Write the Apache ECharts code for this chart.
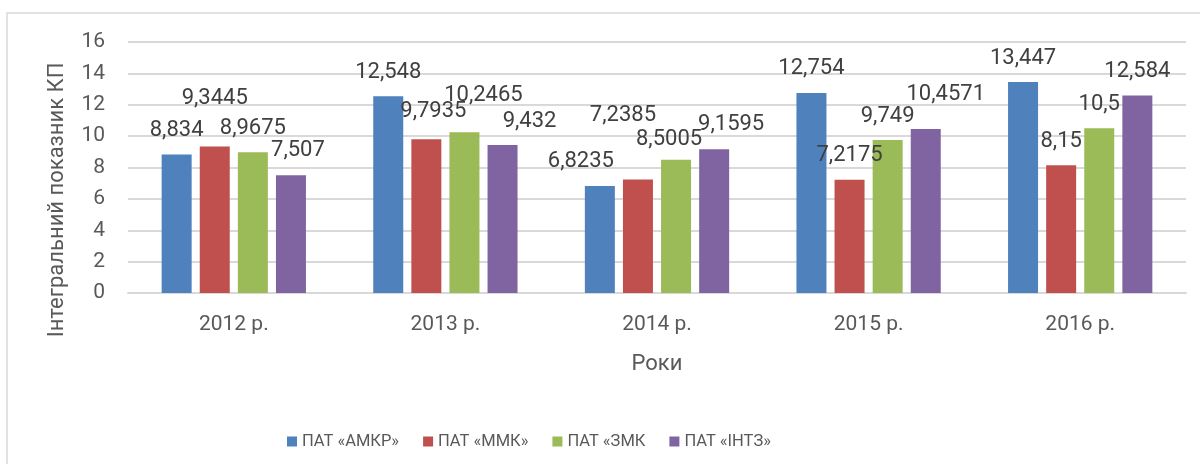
<!DOCTYPE html>
<html>
<head>
<meta charset="utf-8">
<script src="https://cdn.jsdelivr.net/npm/echarts@6/dist/echarts.min.js"></script>
<style>
  html, body { margin: 0; padding: 0; background: #fff; }
  #chart { width: 1200px; height: 464px; }
</style>
</head>
<body>
<div id="chart"></div>
<script>
const categories = ["2012 р.", "2013 р.", "2014 р.", "2015 р.", "2016 р."];
const seriesNames = ["ПАТ «АМКР»", "ПАТ «ММК»", "ПАТ «ЗМК", "ПАТ «ІНТЗ»"];
const amkr = [8.834, 12.548, 6.8235, 12.754, 13.447];
const mmk = [9.3445, 9.7935, 7.2385, 7.2175, 8.15];
const zmk = [8.9675, 10.2465, 8.5005, 9.749, 10.5];
const intz = [7.507, 9.432, 9.1595, 10.4571, 12.584];
const yTicks = { min: 0, max: 16, interval: 2 };

const colors = ["#4f81bd", "#c0504d", "#9bbb59", "#8064a2"];
// label nudges where the original chart moved overlapping labels
const labelNudge = [
    [[0, 0], [0, 0], [-19, 0], [0, 0], [0, 0]],
    [[0, -24], [7, -4], [-15, -40], [0, 0], [0, 0]],
    [[0, 0], [19, -13], [-7, 4], [0, 0], [0, 0]],
    [[7, -1], [27, 0], [17, -1], [20, -10], [0, 0]]
];

function makeSeries(name, values, idx)
{
    return {
        name: name,
        type: "bar",
        barWidth: 30,
        barGap: "27%",
        itemStyle: { color: colors[idx] },
        data: values.map((v, i) => ({
            value: v,
            label: { offset: labelNudge[idx][i] }
        })),
        label: {
            show: true,
            position: "top",
            distance: 13,
            fontFamily: "Roboto",
            fontSize: 22,
            color: "#404040",
            formatter: (p) => String(p.value).replace(".", ",")
        }
    };
}

const chart = echarts.init(document.getElementById("chart"));

chart.setOption({
    animation: false,
    color: colors,
    grid: { left: 128, right: 14, top: 42, bottom: 171 },
    graphic: [
        {
            type: "rect",
            shape: { x: 7, y: 13, width: 1250, height: 500 },
            style: { fill: "none", stroke: "#d9d9d9", lineWidth: 1.5 },
            silent: true
        },
        {
            type: "text",
            x: 57,
            y: 200,
            rotation: Math.PI / 2,
            style: {
                text: "Інтегральний показник КП",
                fontFamily: "Roboto",
                fontSize: 22,
                fill: "#595959",
                align: "center",
                verticalAlign: "middle"
            }
        }
    ],
    legend: {
        left: 282,
        top: 428,
        itemWidth: 10,
        itemHeight: 10,
        itemGap: 24,
        icon: "rect",
        textStyle: { fontFamily: "Roboto", fontSize: 16.5, color: "#595959" },
        data: seriesNames
    },
    xAxis: {
        type: "category",
        data: categories,
        name: "Роки",
        nameLocation: "middle",
        nameGap: 60,
        nameTextStyle: { fontFamily: "Roboto", fontSize: 22, color: "#595959" },
        axisLine: { lineStyle: { color: "#d9d9d9", width: 2 } },
        axisTick: { show: false },
        axisLabel: { margin: 21, fontFamily: "Roboto", fontSize: 21, color: "#595959" }
    },
    yAxis: {
        type: "value",
        min: yTicks.min,
        max: yTicks.max,
        interval: yTicks.interval,
        axisLine: { show: false },
        axisTick: { show: false },
        axisLabel: { margin: 23, fontFamily: "Roboto", fontSize: 21, color: "#595959" },
        splitLine: { lineStyle: { color: "#d9d9d9", width: 2 } }
    },
    series: [
        makeSeries(seriesNames[0], amkr, 0),
        makeSeries(seriesNames[1], mmk, 1),
        makeSeries(seriesNames[2], zmk, 2),
        makeSeries(seriesNames[3], intz, 3)
    ]
});
</script>
</body>
</html>
